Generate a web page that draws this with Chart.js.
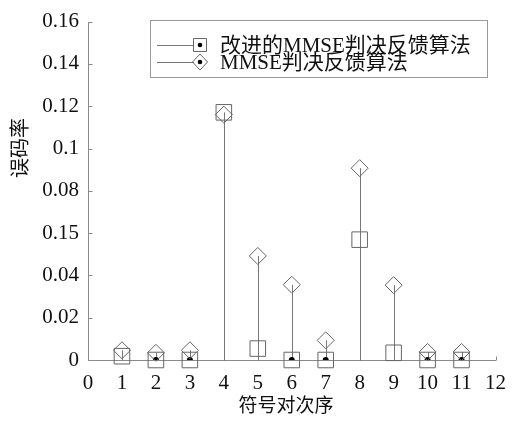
<!DOCTYPE html>
<html>
<head>
<meta charset="utf-8">
<script src="https://cdn.jsdelivr.net/npm/chart.js@4/dist/chart.umd.min.js"></script>
<style>
  html, body { margin: 0; padding: 0; background: #fff; }
  #wrap { width: 517px; height: 421px; }
</style>
</head>
<body>
<div id="wrap"><canvas id="c" width="517" height="421"></canvas></div>
<script>
// Symbol-pair index on the x axis
const symbolIndex = [1, 2, 3, 4, 5, 6, 7, 8, 9, 10, 11];
// Bit error rate, improved MMSE decision-feedback algorithm
const improvedBER = [0.0018, 0, 0, 0.1171, 0.0054, 0, 0, 0.0569, 0.0034, 0, 0];
// Bit error rate, MMSE decision-feedback algorithm
const mmseBER = [0.0046, 0.0034, 0.0046, 0.1160, 0.0492, 0.0356, 0.0093, 0.0907, 0.0354, 0.0038, 0.0038];
// Y axis tick labels as printed
const yTickLabels = ['0', '0.02', '0.04', '0.15', '0.08', '0.1', '0.12', '0.14', '0.16'];
const seriesNames = ['改进的MMSE判决反馈算法', 'MMSE判决反馈算法'];
const xTitle = '符号对次序';
const yTitle = '误码率';

const FONT = '"Liberation Serif", "Noto Sans CJK SC", serif';
const AXIS_COLOR = '#8a8a8a';
const MARK_COLOR = '#666';

const toPoints = (ys) => symbolIndex.map((x, i) => ({ x, y: ys[i] }));
// Black dots sit on the baseline where the improved series is zero
const zeroPoints = symbolIndex.map((x, i) => ({ x, y: improvedBER[i] })).filter(p => p.y === 0);

// Stems from the baseline up to each marker, plus axis lines and inward ticks
const stemPlugin = {
  id: 'stems',
  beforeDatasetsDraw(chart) {
    const { ctx, scales: { x, y }, chartArea } = chart;
    ctx.save();
    // axes
    ctx.strokeStyle = AXIS_COLOR;
    ctx.lineWidth = 1;
    ctx.beginPath();
    const ax = Math.round(chartArea.left) + 0.5;
    const ay = Math.round(y.getPixelForValue(0)) + 0.5;
    ctx.moveTo(ax, Math.round(chartArea.top));
    ctx.lineTo(ax, ay);
    ctx.lineTo(Math.round(chartArea.right), ay);
    y.ticks.forEach(t => {
      const py = Math.round(y.getPixelForValue(t.value)) + 0.5;
      ctx.moveTo(ax, py); ctx.lineTo(ax + 4, py);
    });
    x.ticks.forEach(t => {
      const px = Math.round(x.getPixelForValue(t.value)) + 0.5;
      ctx.moveTo(px, ay); ctx.lineTo(px, ay - 4);
    });
    ctx.stroke();
    // stems
    ctx.strokeStyle = '#777';
    ctx.beginPath();
    [0, 1].forEach(di => {
      chart.data.datasets[di].data.forEach(p => {
        const px = Math.round(x.getPixelForValue(p.x)) + 0.5;
        ctx.moveTo(px, ay);
        ctx.lineTo(px, y.getPixelForValue(p.y));
      });
    });
    ctx.stroke();
    ctx.restore();
  },
  afterDraw(chart) {
    const { ctx } = chart;
    ctx.save();
    ctx.fillStyle = '#111';
    // axis titles
    ctx.font = '19px ' + FONT;
    ctx.textAlign = 'center';
    ctx.textBaseline = 'middle';
    ctx.fillText(xTitle, 286, 407);
    ctx.save();
    ctx.font = '20px ' + FONT;
    ctx.translate(22, 148);
    ctx.rotate(-Math.PI / 2);
    ctx.fillText(yTitle, 0, 0);
    ctx.restore();
    // legend box
    const bx = 150.5, by = 20.5, bw = 337, bh = 57;
    ctx.fillStyle = '#fff';
    ctx.fillRect(bx, by, bw, bh);
    ctx.strokeStyle = '#999';
    ctx.lineWidth = 1;
    ctx.strokeRect(bx, by, bw, bh);
    const rows = [{ y: 45, style: 'rect' }, { y: 62, style: 'rectRot' }];
    rows.forEach((r, i) => {
      ctx.strokeStyle = '#777';
      ctx.beginPath();
      ctx.moveTo(157, r.y + 0.5);
      ctx.lineTo(194, r.y + 0.5);
      ctx.stroke();
      ctx.strokeStyle = MARK_COLOR;
      ctx.beginPath();
      if (r.style === 'rect') {
        ctx.rect(193.5, r.y - 6.5, 13, 13);
      } else {
        ctx.moveTo(200, r.y - 8); ctx.lineTo(207.5, r.y);
        ctx.lineTo(200, r.y + 8); ctx.lineTo(192.5, r.y);
        ctx.closePath();
      }
      ctx.stroke();
      ctx.fillStyle = '#000';
      ctx.beginPath();
      ctx.arc(200, r.y, 2.3, 0, Math.PI * 2);
      ctx.fill();
      ctx.fillStyle = '#111';
      ctx.font = '21px ' + FONT;
      ctx.textAlign = 'left';
      ctx.textBaseline = 'middle';
      ctx.fillText(seriesNames[i], 220, r.y + 1);
    });
    ctx.restore();
  }
};

new Chart(document.getElementById('c'), {
  type: 'scatter',
  data: {
    datasets: [
      {
        label: seriesNames[0],
        data: toPoints(improvedBER),
        pointStyle: 'rect',
        pointRadius: 11,
        pointHoverRadius: 11,
        backgroundColor: 'rgba(0,0,0,0)',
        borderColor: MARK_COLOR,
        borderWidth: 1,
        clip: false
      },
      {
        label: seriesNames[1],
        data: toPoints(mmseBER),
        pointStyle: 'rectRot',
        pointRadius: 8.5,
        pointHoverRadius: 8.5,
        backgroundColor: 'rgba(0,0,0,0)',
        borderColor: MARK_COLOR,
        borderWidth: 1,
        clip: false
      },
      {
        label: 'zero',
        data: zeroPoints,
        pointStyle: 'circle',
        pointRadius: 3,
        backgroundColor: '#000',
        borderColor: '#000',
        borderWidth: 0,
        clip: { left: 10, top: 10, right: 10, bottom: 0 }
      }
    ]
  },
  options: {
    responsive: false,
    animation: false,
    events: [],
    layout: { padding: { top: 19, right: 17, left: 0, bottom: 0 } },
    plugins: { legend: { display: false }, tooltip: { enabled: false } },
    scales: {
      x: {
        type: 'linear',
        min: 0,
        max: 12,
        afterFit: (s) => { s.height = 61; },
        grid: { display: false, drawTicks: false },
        border: { display: false },
        ticks: {
          stepSize: 1,
          padding: 11,
          color: '#111',
          font: { family: FONT, size: 21 },
          maxRotation: 0
        }
      },
      y: {
        type: 'linear',
        min: 0,
        max: 0.16,
        afterFit: (s) => { s.width = 88; },
        grid: { display: false, drawTicks: false },
        border: { display: false },
        ticks: {
          stepSize: 0.02,
          padding: 9,
          color: '#111',
          font: { family: FONT, size: 21 },
          callback: (v, i) => yTickLabels[i]
        }
      }
    }
  },
  plugins: [stemPlugin]
});
</script>
</body>
</html>
